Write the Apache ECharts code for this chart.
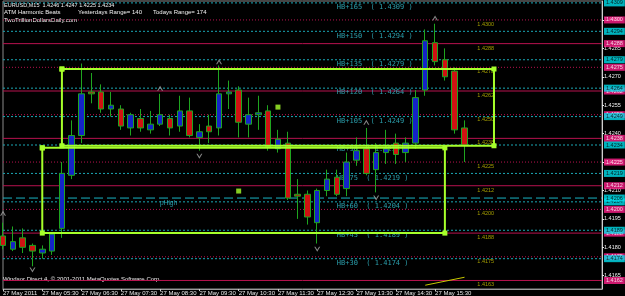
<!DOCTYPE html>
<html>
<head>
<meta charset="utf-8">
<script src="https://cdn.jsdelivr.net/npm/echarts@6/dist/echarts.min.js"></script>
<style>
  html, body { margin: 0; padding: 0; background: #000; }
  #chart { width: 625px; height: 296px; }
</style>
</head>
<body>
<div id="chart"></div>
<script>
// EURUSD M15, 27 May 2011
const times = ['04:30','04:45','05:00','05:15','05:30','05:45','06:00','06:15','06:30','06:45','07:00','07:15',
  '07:30','07:45','08:00','08:15','08:30','08:45','09:00','09:15','09:30','09:45','10:00','10:15',
  '10:30','10:45','11:00','11:15','11:30','11:45','12:00','12:15','12:30','12:45','13:00','13:15',
  '13:30','13:45','14:00','14:15','14:30','14:45','15:00','15:15','15:30','15:45','16:00','16:15']
const opens = [1.4186,1.4179,1.4185,1.4181,1.4177,1.4178,1.4190,1.4218,1.4239,1.4262,1.4262,1.4253,
  1.4253,1.4243,1.4248,1.4242,1.4245,1.4248,1.4244,1.4252,1.4238,1.4244,1.4243,1.4261,
  1.4263,1.4245,1.4250,1.4252,1.4232,1.4235,1.4208,1.4208,1.4193,1.4210,1.4217,1.4211,
  1.4226,1.4232,1.4221,1.4230,1.4235,1.4230,1.4235,1.4263,1.4288,1.4279,1.4273,1.4243]
const highs = [1.4193,1.4191,1.4190,1.4182,1.4181,1.4188,1.4225,1.4247,1.4277,1.4272,1.4266,1.4262,
  1.4255,1.4251,1.4253,1.4252,1.4261,1.4250,1.4260,1.4259,1.4245,1.4250,1.4276,1.4268,
  1.4265,1.4259,1.4260,1.4255,1.4242,1.4241,1.4216,1.4210,1.4211,1.4221,1.4221,1.4230,
  1.4238,1.4243,1.4235,1.4242,1.4240,1.4238,1.4263,1.4295,1.4298,1.4285,1.4275,1.4247]
const lows = [1.4179,1.4178,1.4177,1.4170,1.4174,1.4176,1.4185,1.4216,1.4235,1.4256,1.4251,1.4249,
  1.4242,1.4239,1.4241,1.4240,1.4244,1.4239,1.4241,1.4238,1.4231,1.4235,1.4239,1.4253,
  1.4238,1.4238,1.4242,1.4231,1.4230,1.4205,1.4195,1.4192,1.4182,1.4207,1.4207,1.4207,
  1.4223,1.4218,1.4209,1.4224,1.4224,1.4225,1.4232,1.4260,1.4276,1.4268,1.4240,1.4225]
const closes = [1.4181,1.4183,1.4180,1.4178,1.4179,1.4187,1.4219,1.4239,1.4261,1.4261,1.4253,1.4255,
  1.4244,1.4250,1.4243,1.4245,1.4250,1.4243,1.4252,1.4239,1.4241,1.4241,1.4261,1.4262,
  1.4246,1.4250,1.4251,1.4233,1.4237,1.4206,1.4207,1.4196,1.4210,1.4216,1.4208,1.4225,
  1.4231,1.4219,1.4230,1.4232,1.4229,1.4235,1.4259,1.4289,1.4278,1.4270,1.4242,1.4234]

// harmonic beat levels (cyan) and quarter levels (magenta)
const hbNames = ['HB+165','HB+150','HB+135','HB+120','HB+105','HB+90','HB+75','HB+60','HB+45','HB+30']
const hbLevels = [1.4309,1.4294,1.4279,1.4264,1.4249,1.4234,1.4219,1.4204,1.4189,1.4174]
const quarterLevels = [1.4300,1.42875,1.4275,1.42625,1.4250,1.42375,1.4225,1.42125,1.4200,1.41875,1.4175,1.41625]
const quarterTexts = ['1.4300','1.4288','1.4275','1.4262','1.4250','1.4238','1.4225','1.4212','1.4200','1.4188','1.4175','1.4162']
const prevHigh = 1.4206
const priceTicks = [1.4165,1.4180,1.4195,1.4210,1.4225,1.4240,1.4255,1.4270,1.4285,1.4300]

// fractals
const upFractalIdx = [0, 16, 22, 37, 44]
const upFractalPrice = [1.4198, 1.4264, 1.4278, 1.4246, 1.4301]
const downFractalIdx = [3, 20, 32, 38]
const downFractalPrice = [1.4168, 1.4228, 1.4179, 1.4206]

// boxes: [fromIdx, toIdx, top, bottom]
const upperBox = [6, 50, 1.42741, 1.42336]
const lowerBox = [4, 45, 1.42325, 1.41875]
const markerIdx = [28, 24]
const markerPrice = [1.4254, 1.42097]
const trendIdx = [43, 47]
const trendPrice = [1.4160, 1.41642]

const SHIFT = 14
const cats = times.concat(new Array(SHIFT).fill(''))
const LAST = cats.length - 1

const LIME = '#a6ff2a'
const CYAN_LINE = '#1aa7b5'
const MAG_LINE = '#b8124f'
const FONT = 'Liberation Sans'

function boxPath(b) {
  return [[b[0], b[2]], [b[1], b[2]], [b[1], b[3]], [b[0], b[3]], [b[0], b[2]]]
}

function levelLine(v, color, type) {
  return {
    type: 'line', z: 1, silent: true, symbol: 'none',
    data: [[0, v], [LAST, v]],
    lineStyle: { color: color, width: 1, type: type }
  }
}

function priceBoxes(levels, texts, bg, fg, z) {
  return {
    type: 'scatter', z: z, silent: true, symbolSize: 0, clip: false,
    data: levels.map((v) => [LAST, v]),
    label: {
      show: true, position: 'right', distance: 2,
      formatter: (p) => texts[p.dataIndex],
      backgroundColor: bg, color: fg, fontSize: 5.5, fontFamily: FONT,
      padding: [1, 2, 0, 2], lineHeight: 6
    }
  }
}

const series = []
quarterLevels.forEach((v, i) => series.push(levelLine(v, MAG_LINE, i % 2 === 1 ? 'solid' : [1, 2])))
hbLevels.forEach((v) => series.push(levelLine(v, CYAN_LINE, [2, 2])))
series.push(levelLine(prevHigh, '#19b4c4', [9, 4]))

series.push(
  {
    // yellow captions of quarter levels
    type: 'scatter', z: 2, symbolSize: 0, silent: true,
    data: quarterLevels.map((v) => [48, v]),
    label: {
      show: true, position: 'right', distance: 3, offset: [0, 4.5],
      color: '#c8c000', fontSize: 5.5, fontFamily: FONT,
      formatter: (p) => (p.dataIndex === quarterLevels.length - 1 ? '1.4163' : quarterTexts[p.dataIndex])
    }
  },
  {
    // harmonic beat captions
    type: 'scatter', z: 2, symbolSize: 0, silent: true,
    data: hbLevels.map((v) => [34, v]),
    label: {
      show: true, position: 'right', distance: 0, offset: [0, 4.5],
      color: '#35c3d3', fontSize: 7, fontFamily: 'DejaVu Sans Mono',
      formatter: (p) => hbNames[p.dataIndex] + '  ( ' + hbLevels[p.dataIndex].toFixed(4) + ' )'
    }
  },
  {
    type: 'scatter', z: 2, symbolSize: 0, silent: true,
    data: [[16, prevHigh]],
    label: { show: true, position: 'right', distance: 0, offset: [0, 5], color: '#35c3d3', fontSize: 6.5, fontFamily: FONT, formatter: 'pHigh' }
  },
  priceBoxes(quarterLevels, quarterTexts, '#ff1f8a', '#ffffff', 6),
  priceBoxes(hbLevels.concat([prevHigh]), hbLevels.concat([prevHigh]).map((v) => v.toFixed(4)), '#00e0ec', '#000000', 7),
  {
    type: 'candlestick',
    z: 3,
    barWidth: 6,
    data: opens.map((o, i) => [o, closes[i], lows[i], highs[i]]),
    itemStyle: { color: '#1424c8', color0: '#d01212', borderColor: '#1fa51f', borderColor0: '#1fa51f', borderWidth: 1 }
  },
  {
    type: 'scatter', z: 4, silent: true,
    symbol: 'path://M0,10L5,0L10,10L8,10L5,4L2,10Z', symbolSize: [6, 5],
    itemStyle: { color: '#a8a8a8' },
    data: upFractalIdx.map((x, i) => [x, upFractalPrice[i]])
  },
  {
    type: 'scatter', z: 4, silent: true,
    symbol: 'path://M0,0L5,10L10,0L8,0L5,6L2,0Z', symbolSize: [6, 5],
    itemStyle: { color: '#a8a8a8' },
    data: downFractalIdx.map((x, i) => [x, downFractalPrice[i]])
  },
  {
    type: 'line', z: 5, silent: true, data: boxPath(upperBox),
    symbol: 'rect', symbolSize: 5, showSymbol: true,
    lineStyle: { color: LIME, width: 2 }, itemStyle: { color: LIME }
  },
  {
    type: 'line', z: 5, silent: true, data: boxPath(lowerBox),
    symbol: 'rect', symbolSize: 5, showSymbol: true,
    lineStyle: { color: LIME, width: 2 }, itemStyle: { color: LIME }
  },
  {
    type: 'scatter', z: 5, silent: true, symbol: 'rect', symbolSize: 5,
    itemStyle: { color: LIME },
    data: markerIdx.map((x, i) => [x, markerPrice[i]])
  },
  {
    type: 'line', z: 5, silent: true, symbol: 'none',
    data: trendIdx.map((x, i) => [x, trendPrice[i]]),
    lineStyle: { color: '#c8c800', width: 1 }
  }
)

const chart = echarts.init(document.getElementById('chart'))
chart.setOption({
  backgroundColor: '#000',
  animation: false,
  grid: { left: 2, right: 23, top: 1, bottom: 7, show: true, borderColor: '#8a8a8a', borderWidth: 1 },
  xAxis: {
    type: 'category',
    data: cats,
    boundaryGap: false,
    axisLine: { lineStyle: { color: '#9a9a9a' } },
    axisTick: { show: true, length: 2, interval: (i, v) => v !== '' && i % 4 === 0, lineStyle: { color: '#cfcfcf' } },
    axisLabel: {
      interval: 3, align: 'left', margin: 1, color: '#e6e6e6', fontSize: 6, fontFamily: FONT,
      formatter: (v, i) => (v === '' ? '' : i === 0 ? '27 May 2011' : '27 May ' + v)
    },
    splitLine: { show: false }
  },
  yAxis: {
    type: 'value',
    position: 'right',
    min: 1.4158,
    max: 1.4310,
    axisLine: { show: true, lineStyle: { color: '#cfcfcf' } },
    axisTick: { show: true, length: 2, customValues: priceTicks, lineStyle: { color: '#e6e6e6' } },
    axisLabel: {
      customValues: priceTicks, margin: 2, color: '#eeeeee', fontSize: 5.5, fontFamily: FONT,
      formatter: (v) => v.toFixed(4)
    },
    splitLine: { show: false }
  },
  graphic: [
    { type: 'text', left: 4, top: 2, style: { text: 'EURUSD,M15  1.4246 1.4247 1.4225 1.4234', fill: '#f0f0f0', fontSize: 5.5, fontFamily: FONT } },
    { type: 'text', left: 4, top: 9.5, style: { text: 'ATM Harmonic Beats', fill: '#f0f0f0', fontSize: 6, fontFamily: FONT } },
    { type: 'text', left: 78, top: 9.5, style: { text: 'Yesterdays Range= 140', fill: '#f0f0f0', fontSize: 6, fontFamily: FONT } },
    { type: 'text', left: 153, top: 9.5, style: { text: 'Todays Range= 174', fill: '#f0f0f0', fontSize: 6, fontFamily: FONT } },
    { type: 'text', left: 4, top: 17.5, style: { text: 'TwoTrillionDollarsDaily.com', fill: '#f0f0f0', fontSize: 6, fontFamily: FONT } },
    { type: 'text', left: 3, top: 276, style: { text: 'Windsor Direct 4, \u00a9 2001-2011 MetaQuotes Software Corp.', fill: '#f0f0f0', fontSize: 6, fontFamily: FONT } }
  ],
  series: series
})
</script>
</body>
</html>
